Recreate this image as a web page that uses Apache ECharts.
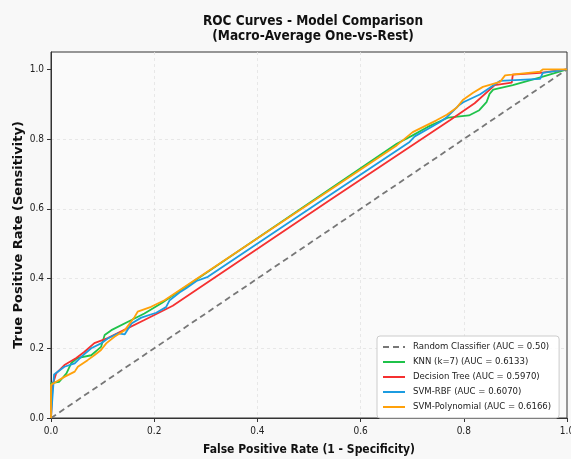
<!DOCTYPE html>
<html>
<head>
<meta charset="utf-8">
<script src="https://cdn.jsdelivr.net/npm/echarts@6/dist/echarts.min.js"></script>
<style>
  html, body { margin: 0; padding: 0; background: #f8f8f8; }
  #chart { width: 571px; height: 459px; }
</style>
</head>
<body>
<div id="chart"></div>
<script>
// ROC points [fpr, tpr]
const randomRoc = [[0, 0], [1, 1]];
const knnRoc = [[0, 0], [0, 0.1], [0.016, 0.104], [0.03, 0.128], [0.039, 0.157], [0.051, 0.172],
  [0.078, 0.18], [0.097, 0.204], [0.104, 0.238], [0.117, 0.252], [0.156, 0.281], [0.181, 0.3],
  [0.214, 0.329], [0.67, 0.787], [0.7, 0.81], [0.73, 0.835], [0.77, 0.862], [0.81, 0.868],
  [0.83, 0.883], [0.844, 0.906], [0.85, 0.93], [0.857, 0.942], [0.895, 0.955], [0.95, 0.978], [1, 1]];
const treeRoc = [[0, 0], [0.003, 0.095], [0.01, 0.128], [0.026, 0.152], [0.049, 0.172], [0.065, 0.19],
  [0.084, 0.215], [0.11, 0.229], [0.149, 0.258], [0.181, 0.281], [0.236, 0.322], [0.54, 0.625],
  [0.773, 0.854], [0.821, 0.903], [0.86, 0.955], [0.893, 0.962], [0.895, 0.985], [0.948, 0.99], [1, 1]];
const rbfRoc = [[0, 0], [0.006, 0.125], [0.026, 0.147], [0.046, 0.157], [0.059, 0.176], [0.078, 0.2],
  [0.097, 0.214], [0.11, 0.228], [0.13, 0.243], [0.143, 0.24], [0.156, 0.271], [0.175, 0.288],
  [0.204, 0.302], [0.223, 0.318], [0.23, 0.338], [0.249, 0.36], [0.262, 0.372], [0.282, 0.393],
  [0.304, 0.405], [0.54, 0.639], [0.695, 0.792], [0.705, 0.808], [0.754, 0.849], [0.767, 0.863],
  [0.792, 0.899], [0.799, 0.906], [0.831, 0.928], [0.857, 0.954], [0.87, 0.967], [0.948, 0.973],
  [0.953, 0.99], [1, 1]];
const polyRoc = [[0, 0], [0, 0.095], [0.01, 0.104], [0.026, 0.118], [0.046, 0.133], [0.052, 0.147],
  [0.071, 0.166], [0.084, 0.18], [0.097, 0.195], [0.107, 0.214], [0.123, 0.233], [0.143, 0.252],
  [0.162, 0.29], [0.168, 0.305], [0.194, 0.319], [0.22, 0.338], [0.67, 0.782], [0.701, 0.82],
  [0.747, 0.854], [0.767, 0.87], [0.786, 0.89], [0.798, 0.912], [0.818, 0.933], [0.837, 0.95],
  [0.87, 0.964], [0.88, 0.983], [0.893, 0.985], [0.948, 0.994], [0.953, 1.0], [1, 1]];

const seriesNames = ['Random Classifier (AUC = 0.50)', 'KNN (k=7) (AUC = 0.6133)',
  'Decision Tree (AUC = 0.5970)', 'SVM-RBF (AUC = 0.6070)', 'SVM-Polynomial (AUC = 0.6166)'];
const seriesColors = ['#777777', '#1fc24a', '#f53030', '#1c9ce0', '#ffa10a'];
const seriesData = [randomRoc, knnRoc, treeRoc, rbfRoc, polyRoc];
const tickValues = [0, 0.2, 0.4, 0.6, 0.8, 1.0];

const FONT = '"DejaVu Sans Condensed", "DejaVu Sans", sans-serif';

const chart = echarts.init(document.getElementById('chart'));

var series = seriesData.map(function (d, i) {
  return {
    name: seriesNames[i],
    type: 'line',
    data: d,
    symbol: 'none',
    showSymbol: false,
    animation: false,
    color: seriesColors[i],
    lineStyle: {
      width: 1.8,
      color: seriesColors[i],
      type: i === 0 ? [6, 4] : 'solid'
    }
  };
});

var option = {
  backgroundColor: '#f8f8f8',
  animation: false,
  textStyle: { fontFamily: FONT },
  graphic: [
    {
      type: 'text', x: 313, y: 21,
      style: { text: 'ROC Curves - Model Comparison', font: 'bold 13.5px ' + FONT, fill: '#111', textAlign: 'center', textVerticalAlign: 'middle' }
    },
    {
      type: 'text', x: 313, y: 36,
      style: { text: '(Macro-Average One-vs-Rest)', font: 'bold 13.5px ' + FONT, fill: '#111', textAlign: 'center', textVerticalAlign: 'middle' }
    }
  ],
  grid: {
    left: 51, right: 4, top: 52, bottom: 41,
    outerBoundsMode: 'none',
    containLabel: false,
    show: true,
    backgroundColor: '#fafafa',
    borderColor: '#333',
    borderWidth: 1
  },
  legend: {
    orient: 'vertical',
    left: 377, top: 336,
    itemWidth: 22, itemHeight: 10, itemGap: 5,
    padding: [6, 8, 6, 5],
    backgroundColor: 'rgba(255,255,255,0.85)',
    borderColor: '#cccccc', borderWidth: 1, borderRadius: 3,
    itemStyle: { opacity: 0 },
    textStyle: { fontSize: 9.5, color: '#222', fontFamily: FONT, padding: [0, 0, 0, 3] },
    data: seriesNames
  },
  xAxis: {
    type: 'value', min: 0, max: 1, interval: 0.2,
    name: 'False Positive Rate (1 - Specificity)',
    nameLocation: 'middle', nameGap: 26, nameMoveOverlap: false,
    nameTextStyle: { fontSize: 12, fontWeight: 'bold', color: '#111', fontFamily: FONT },
    axisLine: { show: true, lineStyle: { color: '#333', width: 1 } },
    axisTick: { show: true, length: 4, lineStyle: { color: '#333' } },
    axisLabel: { fontSize: 10, color: '#222', margin: 8, formatter: function (v) { return v.toFixed(1); } },
    splitLine: { show: true, showMinLine: false, showMaxLine: false, lineStyle: { color: '#e2e2e2', type: [3, 3], width: 0.8 } }
  },
  yAxis: {
    type: 'value', min: 0, max: 1.05, interval: 0.2,
    name: 'True Positive Rate (Sensitivity)',
    nameLocation: 'middle', nameGap: 26, nameMoveOverlap: false,
    nameTextStyle: { fontSize: 13, fontWeight: 'bold', color: '#111', fontFamily: '"DejaVu Sans", sans-serif' },
    axisLine: { show: true, lineStyle: { color: '#333', width: 1 } },
    axisTick: { show: true, length: 4, customValues: tickValues, lineStyle: { color: '#333' } },
    axisLabel: { fontSize: 10, color: '#222', margin: 7, customValues: tickValues, formatter: function (v) { return v.toFixed(1); } },
    splitLine: { show: true, showMinLine: false, showMaxLine: false, lineStyle: { color: '#e2e2e2', type: [3, 3], width: 0.8 } }
  },
  series: series
};

chart.setOption(option);
</script>
</body>
</html>
